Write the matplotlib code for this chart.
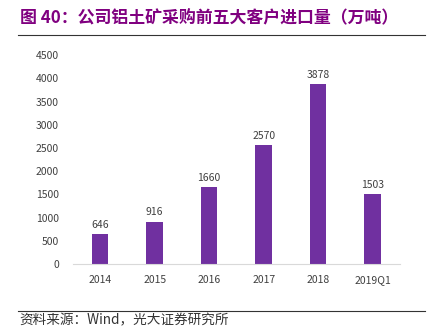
import matplotlib
matplotlib.use("Agg")
import matplotlib.pyplot as plt
from matplotlib.lines import Line2D

plt.rcParams['font.family'] = ['Noto Sans CJK SC', 'DejaVu Sans']

# data
categories = ['2014', '2015', '2016', '2017', '2018', '2019Q1']
imports = [646, 916, 1660, 2570, 3878, 1503]
yticks = [0, 500, 1000, 1500, 2000, 2500, 3000, 3500, 4000, 4500]

title = '图 40：公司铝土矿采购前五大客户进口量（万吨）'
source = '资料来源：Wind，光大证券研究所'

bar_color = '#7030A0'
title_color = '#800080'
text_grey = '#404040'

fig = plt.figure(figsize=(4.39, 3.26), dpi=100)
ax = fig.add_axes([0.166, 0.19, 0.745, 0.641])

x = range(len(categories))
ax.bar(x, imports, width=0.3, color=bar_color)
for xi, v in zip(x, imports):
    ax.text(xi, v + 90, str(v), ha='center', va='bottom', fontsize=7.5, color=text_grey)

ax.set_xlim(-0.5, len(categories) - 0.5)
ax.set_ylim(0, 4500)
ax.set_yticks(yticks)
ax.set_xticks(list(x))
ax.set_xticklabels(categories)
ax.tick_params(axis='both', length=0, labelsize=7.5, colors=text_grey)
ax.tick_params(axis='y', pad=10)
ax.tick_params(axis='x', pad=8)

# frame removal
for s in ['top', 'right', 'left']:
    ax.spines[s].set_visible(False)
ax.spines['bottom'].set_color('#D9D9D9')
ax.spines['bottom'].set_linewidth(0.8)

# title and source
fig.text(0.045, 0.945, title, fontsize=12.2, fontweight='bold', color=title_color, va='center')
fig.add_artist(Line2D([0.041, 0.968], [0.893, 0.893], color='#333333', lw=0.8))
fig.add_artist(Line2D([0.041, 0.968], [0.045, 0.045], color='#333333', lw=0.8))
fig.text(0.045, 0.018, source, fontsize=9.8, color='#333333', va='center')

fig.savefig('out.png', dpi=100)
